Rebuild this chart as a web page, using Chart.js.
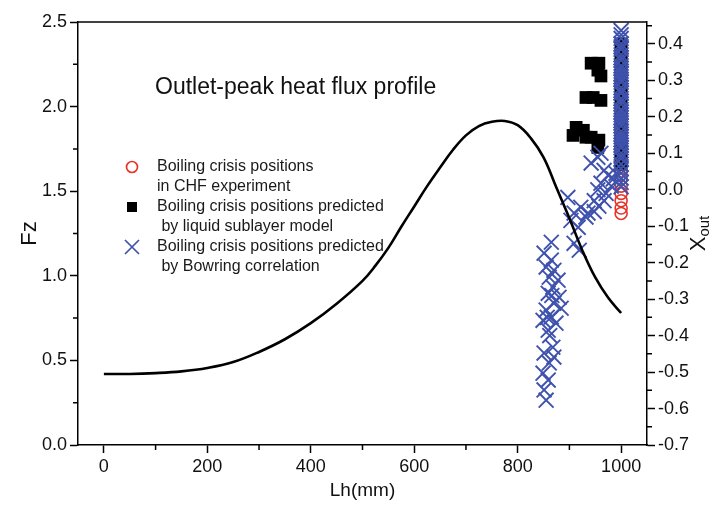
<!DOCTYPE html>
<html><head><meta charset="utf-8">
<script src="https://cdn.jsdelivr.net/npm/chart.js@4.4.1/dist/chart.umd.min.js"></script>
<style>html,body{margin:0;padding:0;background:#fff;} #wrap{width:712px;height:506px;position:relative;}</style>
</head><body><div id="wrap"><canvas id="c"></canvas></div>
<script>
// ---- tick labels ----
const xTicks = [0, 200, 400, 600, 800, 1000];
const xMinorTicks = [100, 300, 500, 700, 900];
const fzTicks = [0, 0.5, 1.0, 1.5, 2.0, 2.5];
const fzMinorTicks = [0.25, 0.75, 1.25, 1.75, 2.25];
const xoutTicks = [-0.7, -0.6, -0.5, -0.4, -0.3, -0.2, -0.1, 0.0, 0.1, 0.2, 0.3, 0.4];
const xoutMinorTicks = [-0.65, -0.55, -0.45, -0.35, -0.25, -0.15, -0.05, 0.05, 0.15, 0.25, 0.35, 0.45];

// ---- heat flux profile (left axis) ----
const profileLh = [0, 50, 100, 150, 200, 250, 300, 350, 400, 450, 500, 525, 550, 575, 600, 625, 650, 675, 700, 725, 750, 775, 800, 825, 850, 875, 900, 925, 950, 975, 1000];
const profileFz = [0.42, 0.42, 0.425, 0.435, 0.455, 0.49, 0.55, 0.625, 0.72, 0.835, 0.97, 1.06, 1.165, 1.29, 1.41, 1.53, 1.64, 1.745, 1.83, 1.885, 1.91, 1.915, 1.89, 1.815, 1.70, 1.52, 1.34, 1.15, 0.99, 0.87, 0.78];

// ---- boiling crisis positions in CHF experiment (right axis) ----
const chfLh = [1000,1000,1000,1000,1000,1000,1000,1000,1000,1000,1000,1000,1000,1000,1000,1000,1000,1000,1000,1000,1000,1000,1000,1000];
const chfX  = [0.40, 0.38, 0.36, 0.34, 0.32, 0.30, 0.27, 0.25, 0.23, 0.21, 0.19, 0.17, 0.15, 0.13, 0.11, 0.09, 0.07, 0.05, 0.03, 0.01, -0.01, -0.03, -0.05, -0.065];

// ---- predicted by liquid sublayer model ----
const sublayerLh = [942, 957, 955, 961, 932, 946, 961, 913, 927, 907, 932, 942, 957, 955,
                    1000, 1000, 1000, 1000, 1000, 1000, 1000, 1000, 1000, 1000, 1000, 1000];
const sublayerX  = [0.347, 0.347, 0.328, 0.312, 0.253, 0.253, 0.245, 0.171, 0.163, 0.149, 0.144, 0.144, 0.136, 0.116,
                    0.40, 0.37, 0.34, 0.31, 0.28, 0.25, 0.22, 0.19, 0.16, 0.13, 0.10, 0.07];

// ---- predicted by Bowring correlation ----
const bowringLh = [865, 851, 865, 855, 870, 861, 878, 868, 859, 880, 870, 855, 884, 865, 849, 874, 859, 868, 851, 870, 861, 849, 859, 851, 855, 862, 857, 866,
                   897, 903, 909, 917, 922, 909, 919, 936, 932, 948, 957, 967, 971, 981, 985, 990, 942, 955, 961, 967, 975, 955, 961, 948,
                   1000, 1000, 1000, 1000, 1000, 1000, 1000, 1000, 1000, 1000, 1000, 1000, 1000, 1000, 1000, 1000, 1000, 1000, 1000, 1000, 1000, 1000, 1000, 1000,
                   1000, 1000, 1000, 1000, 1000, 1000, 1000, 1000, 1000, 1000, 1000, 1000, 1000, 1000, 1000, 1000, 1000, 1000, 1000, 1000, 1000, 1000];
const bowringX  = [-0.144, -0.174, -0.193, -0.212, -0.221, -0.240, -0.248, -0.267, -0.284, -0.295, -0.311, -0.330, -0.325, -0.349, -0.358, -0.366, -0.385, -0.432, -0.448, -0.459, -0.475, -0.503, -0.522, -0.549, -0.577, -0.40, -0.35, -0.29,
                   -0.021, -0.084, -0.064, -0.103, -0.048, -0.147, -0.166, -0.064, -0.075, -0.060, -0.045, -0.030, -0.010, 0.010, 0.030, 0.045, 0.073, 0.089, 0.100, 0.053, 0.040, 0.000, 0.018, -0.030,
                   0.437, 0.415, 0.40, 0.385, 0.37, 0.355, 0.34, 0.325, 0.31, 0.295, 0.28, 0.265, 0.25, 0.235, 0.22, 0.205, 0.19, 0.175, 0.16, 0.145, 0.13, 0.115, 0.10, 0.085,
                   0.425, 0.392, 0.362, 0.333, 0.302, 0.272, 0.243, 0.213, 0.183, 0.152, 0.122, 0.092, 0.07, 0.058, 0.045, 0.032, 0.02, 0.008, 0.265, 0.198, 0.318, 0.138];

const zip = (xs, ys) => xs.map((x, i) => ({x: x, y: ys[i]}));

const FONT = "'Liberation Sans', Arial, Helvetica, sans-serif";
const RED = '#e8332b', BLUE = '#3f52ad';

const legendItems = [
  {style: 'circle', lines: ['Boiling crisis positions', 'in CHF experiment']},
  {style: 'rect', lines: ['Boiling crisis positions predicted', ' by liquid sublayer model']},
  {style: 'cross', lines: ['Boiling crisis positions predicted', ' by Bowring correlation']}
];

const decor = {
  id: 'decor',
  afterDraw(chart) {
    const ctx = chart.ctx, a = chart.chartArea;
    const sx = chart.scales.x, sy = chart.scales.y, sy2 = chart.scales.y2;
    ctx.save();
    ctx.strokeStyle = '#000';
    ctx.lineWidth = 1.5;
    ctx.beginPath(); ctx.moveTo(a.left, a.top); ctx.lineTo(a.right, a.top); ctx.stroke();
    ctx.beginPath();
    xMinorTicks.forEach(v => { const p = sx.getPixelForValue(v); ctx.moveTo(p, a.bottom); ctx.lineTo(p, a.bottom + 5); });
    fzMinorTicks.forEach(v => { const p = sy.getPixelForValue(v); ctx.moveTo(a.left, p); ctx.lineTo(a.left - 5, p); });
    xoutMinorTicks.forEach(v => { if (v > sy2.max) return; const p = sy2.getPixelForValue(v); ctx.moveTo(a.right, p); ctx.lineTo(a.right + 5, p); });
    ctx.stroke();

    ctx.fillStyle = '#111';
    ctx.textBaseline = 'middle';
    ctx.textAlign = 'center';
    ctx.font = '19px ' + FONT;
    ctx.fillText('Lh(mm)', (a.left + a.right) / 2, 491);
    ctx.save();
    ctx.translate(30, (a.top + a.bottom) / 2);
    ctx.rotate(-Math.PI / 2);
    ctx.font = '22px ' + FONT;
    ctx.fillText('Fz', 0, 0);
    ctx.restore();
    ctx.save();
    ctx.translate(699, (a.top + a.bottom) / 2);
    ctx.rotate(-Math.PI / 2);
    ctx.textAlign = 'left';
    ctx.font = '22px ' + FONT;
    const wX = ctx.measureText('X').width;
    ctx.font = '15px ' + FONT;
    const wO = ctx.measureText('out').width;
    const start = -(wX + wO) / 2;
    ctx.font = '22px ' + FONT;
    ctx.fillText('X', start, 0);
    ctx.font = '15px ' + FONT;
    ctx.fillText('out', start + wX, 6);
    ctx.restore();

    ctx.textAlign = 'left';
    ctx.font = '23px ' + FONT;
    ctx.fillStyle = '#111';
    ctx.fillText('Outlet-peak heat flux profile', 155, 88);

    ctx.font = '16px ' + FONT;
    let y = 167;
    const sxL = 132, tx = 157, lh = 20;
    legendItems.forEach(item => {
      ctx.save();
      if (item.style === 'circle') {
        ctx.strokeStyle = RED; ctx.lineWidth = 1.7;
        ctx.beginPath(); ctx.arc(sxL, y, 5.5, 0, Math.PI * 2); ctx.stroke();
      } else if (item.style === 'rect') {
        ctx.fillStyle = '#000';
        ctx.fillRect(sxL - 5, y - 5, 10, 10);
      } else {
        ctx.strokeStyle = BLUE; ctx.lineWidth = 1.7;
        ctx.beginPath();
        ctx.moveTo(sxL - 7, y - 7); ctx.lineTo(sxL + 7, y + 7);
        ctx.moveTo(sxL + 7, y - 7); ctx.lineTo(sxL - 7, y + 7);
        ctx.stroke();
      }
      ctx.restore();
      ctx.fillStyle = '#1a1a1a';
      item.lines.forEach((t, i) => ctx.fillText(t, tx, y + i * lh));
      y += 2 * lh;
    });
    ctx.restore();
  }
};

const setTicks = (vals) => (scale) => { scale.ticks = vals.map(v => ({value: v})); };

new Chart(document.getElementById('c'), {
  type: 'scatter',
  data: {
    datasets: [
      {label: 'Fz profile', data: zip(profileLh, profileFz), yAxisID: 'y', showLine: true,
       borderColor: '#000', borderWidth: 2.6, pointRadius: 0, tension: 0.4, order: 0},
      {label: 'Bowring', data: zip(bowringLh, bowringX), yAxisID: 'y2', pointStyle: 'crossRot',
       pointRadius: 10.5, borderColor: BLUE, backgroundColor: BLUE, pointBorderWidth: 1.9, order: 1},
      {label: 'Sublayer', data: zip(sublayerLh, sublayerX), yAxisID: 'y2', pointStyle: 'rect',
       pointRadius: 9, borderColor: '#000', backgroundColor: '#000', pointBorderWidth: 0, order: 2},
      {label: 'CHF', data: zip(chfLh, chfX), yAxisID: 'y2', pointStyle: 'circle',
       pointRadius: 6, borderColor: RED, backgroundColor: 'rgba(255,255,255,0)', pointBorderWidth: 1.6, order: 3}
    ]
  },
  options: {
    responsive: true, maintainAspectRatio: false, animation: false,
    layout: {padding: {top: 22, left: 0, right: 0, bottom: 0}},
    plugins: {legend: {display: false}, tooltip: {enabled: false}},
    scales: {
      x: {
        type: 'linear', min: -50, max: 1050,
        afterBuildTicks: setTicks(xTicks),
        afterFit: (s) => { s.height = 61; },
        grid: {drawOnChartArea: false, drawTicks: true, tickLength: 8, tickColor: '#000', tickWidth: 1.5},
        border: {color: '#000', width: 1.5},
        ticks: {color: '#111', font: {family: FONT, size: 18}, padding: 3, maxRotation: 0, callback: (v) => String(v)}
      },
      y: {
        type: 'linear', position: 'left', min: 0, max: 2.5,
        afterBuildTicks: setTicks(fzTicks),
        afterFit: (s) => { s.width = 78; },
        grid: {drawOnChartArea: false, drawTicks: true, tickLength: 8, tickColor: '#000', tickWidth: 1.5},
        border: {color: '#000', width: 1.5},
        ticks: {color: '#111', font: {family: FONT, size: 18}, padding: 3, callback: (v) => Number(v).toFixed(1)}
      },
      y2: {
        type: 'linear', position: 'right', min: -0.7, max: 0.46,
        afterBuildTicks: setTicks(xoutTicks),
        afterFit: (s) => { s.width = 65; },
        grid: {drawOnChartArea: false, drawTicks: true, tickLength: 8, tickColor: '#000', tickWidth: 1.5},
        border: {color: '#000', width: 1.5},
        ticks: {color: '#111', font: {family: FONT, size: 18}, padding: 3, callback: (v) => Number(v).toFixed(1)}
      }
    }
  },
  plugins: [decor]
});
</script></body></html>
